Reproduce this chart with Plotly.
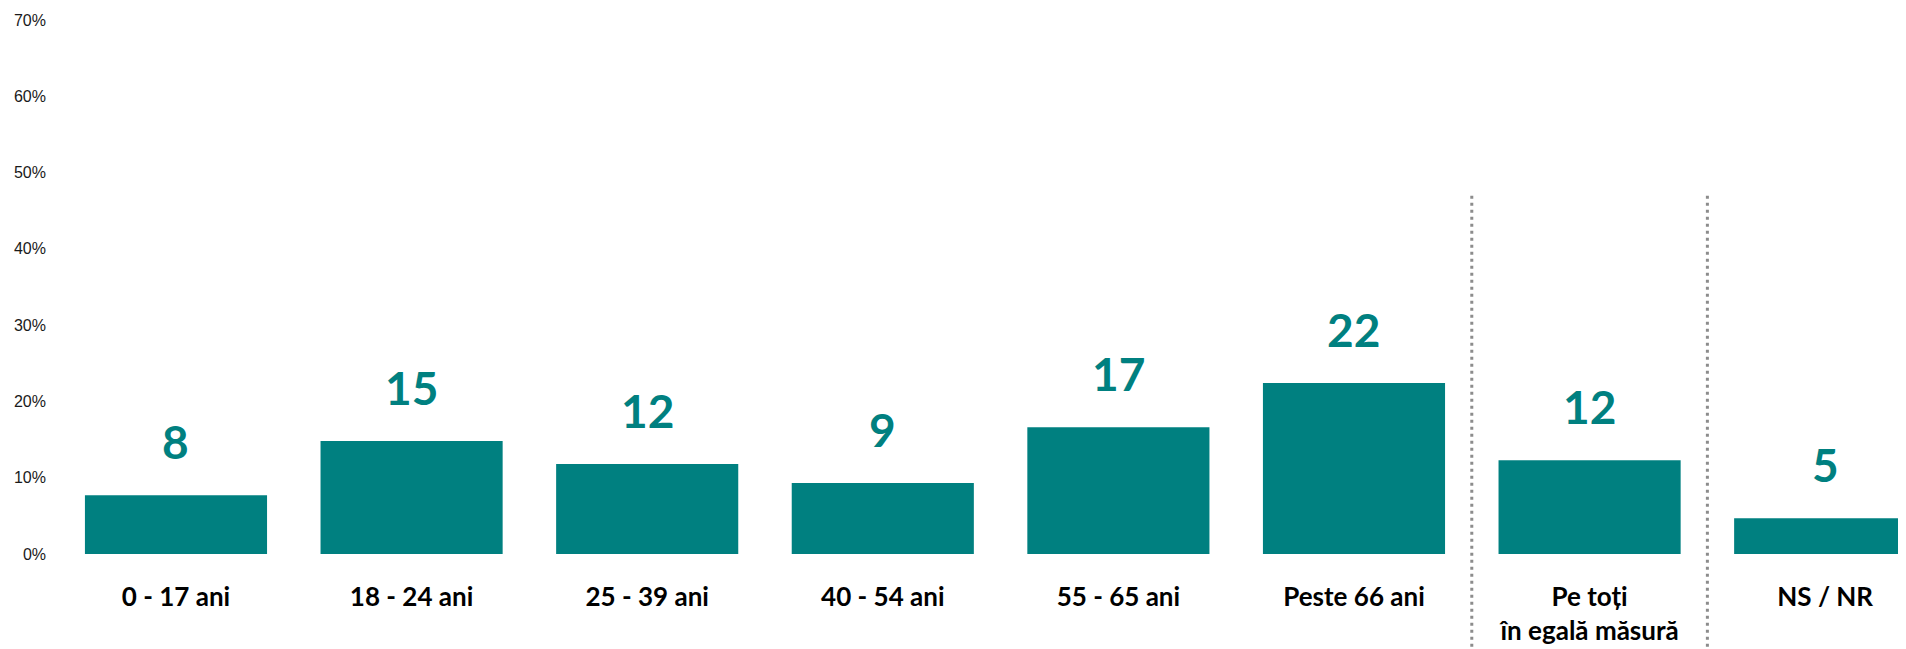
import plotly.graph_objects as go

categories = ["0 - 17 ani", "18 - 24 ani", "25 - 39 ani", "40 - 54 ani",
              "55 - 65 ani", "Peste 66 ani", "Pe toți<br>în egală măsură", "NS / NR"]
values = [7.7, 14.8, 11.8, 9.3, 16.6, 22.4, 12.3, 4.7]
labels = ["8", "15", "12", "9", "17", "22", "12", "5"]
y_ticks = [0, 10, 20, 30, 40, 50, 60, 70]
separators = [5.5, 6.5]

TEAL = "#008080"

x_idx = list(range(len(categories)))

fig = go.Figure()
fig.add_trace(go.Bar(
    x=x_idx, y=values, marker=dict(color=TEAL, line=dict(width=0)),
    hoverinfo="skip", showlegend=False,
))

for i, (v, t) in enumerate(zip(values, labels)):
    fig.add_annotation(
        x=i, y=v, xref="x", yref="y", text=t, showarrow=False,
        yanchor="bottom", yshift=24,
        font=dict(family="Lato", size=46, color=TEAL, weight="bold"),
    )

for s in separators:
    fig.add_shape(
        type="line", xref="x", yref="paper", x0=s, x1=s, y0=-0.2, y1=0.676,
        line=dict(color="#8c8c8c", width=3, dash="3px,4px"),
    )

fig.update_layout(
    width=1898, height=641,
    margin=dict(l=39, r=0, t=12, b=95),
    paper_bgcolor="white", plot_bgcolor="white",
    bargap=0.227,
    xaxis=dict(
        range=[-0.5475, 7.343], tickmode="array", tickvals=x_idx,
        ticktext=[f"<b>{c}</b>" for c in categories],
        tickfont=dict(family="Lato", size=26, color="#000000"),
        showgrid=False, zeroline=False, showline=False, ticks="",
        ticklabelstandoff=25,
    ),
    yaxis=dict(
        range=[0, 70], tickmode="array", tickvals=y_ticks,
        ticktext=[f"{v}%" for v in y_ticks],
        tickfont=dict(family="Liberation Sans", size=16, color="#1a1a1a"),
        showgrid=False, zeroline=False, showline=False, ticks="",
    ),
)

fig.write_html("out.html")
